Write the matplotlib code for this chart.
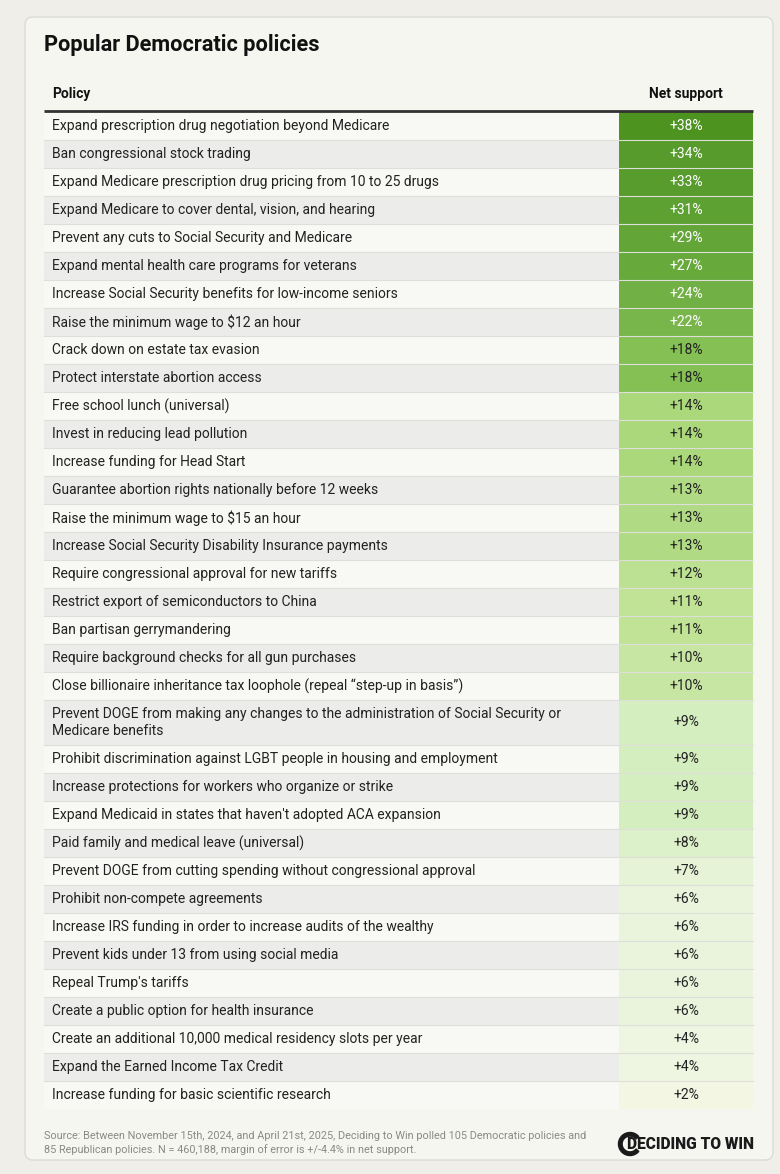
import matplotlib
matplotlib.use("Agg")
import matplotlib.pyplot as plt
from matplotlib.patches import FancyBboxPatch, Wedge

plt.rcParams['font.family'] = ['Roboto', 'DejaVu Sans']

title = "Popular Democratic policies"
col_headers = ["Policy", "Net support"]

policies = [
    "Expand prescription drug negotiation beyond Medicare",
    "Ban congressional stock trading",
    "Expand Medicare prescription drug pricing from 10 to 25 drugs",
    "Expand Medicare to cover dental, vision, and hearing",
    "Prevent any cuts to Social Security and Medicare",
    "Expand mental health care programs for veterans",
    "Increase Social Security benefits for low-income seniors",
    "Raise the minimum wage to $12 an hour",
    "Crack down on estate tax evasion",
    "Protect interstate abortion access",
    "Free school lunch (universal)",
    "Invest in reducing lead pollution",
    "Increase funding for Head Start",
    "Guarantee abortion rights nationally before 12 weeks",
    "Raise the minimum wage to $15 an hour",
    "Increase Social Security Disability Insurance payments",
    "Require congressional approval for new tariffs",
    "Restrict export of semiconductors to China",
    "Ban partisan gerrymandering",
    "Require background checks for all gun purchases",
    "Close billionaire inheritance tax loophole (repeal \u201cstep-up in basis\u201d)",
    "Prevent DOGE from making any changes to the administration of Social Security or\nMedicare benefits",
    "Prohibit discrimination against LGBT people in housing and employment",
    "Increase protections for workers who organize or strike",
    "Expand Medicaid in states that haven't adopted ACA expansion",
    "Paid family and medical leave (universal)",
    "Prevent DOGE from cutting spending without congressional approval",
    "Prohibit non-compete agreements",
    "Increase IRS funding in order to increase audits of the wealthy",
    "Prevent kids under 13 from using social media",
    "Repeal Trump's tariffs",
    "Create a public option for health insurance",
    "Create an additional 10,000 medical residency slots per year",
    "Expand the Earned Income Tax Credit",
    "Increase funding for basic scientific research",
]
net_support = [38, 34, 33, 31, 29, 27, 24, 22, 18, 18, 14, 14, 14, 13, 13, 13,
               12, 11, 11, 10, 10, 9, 9, 9, 9, 8, 7, 6, 6, 6, 6, 6, 4, 4, 2]

source = ("Source: Between November 15th, 2024, and April 21st, 2025, Deciding to Win polled 105 Democratic policies and\n"
          "85 Republican policies. N = 460,188, margin of error is +/-4.4% in net support.")

# shades used by the net support column (binned)
shade = {38: "#4c931f", 34: "#569b2b", 33: "#589c2d", 31: "#5ea133",
         29: "#63a537", 27: "#68a93c", 24: "#70b044", 22: "#78b54b",
         18: "#85c055", 14: "#abd87b", 13: "#b1da84", 12: "#bde192",
         11: "#c0e396", 10: "#c8e6a3", 9: "#d5eebf", 8: "#dcf0c9",
         7: "#e6f3d6", 6: "#eaf4dc", 4: "#eef5e0", 2: "#f4f6e4"}

W, H = 780, 1174
fig = plt.figure(figsize=(W / 100, H / 100), dpi=100)
fig.patch.set_facecolor("#efeee8")
ax = fig.add_axes([0, 0, 1, 1])
ax.set_xlim(0, W)
ax.set_ylim(H, 0)
ax.axis("off")

# card
card = FancyBboxPatch((25, 17), 748, 1143, boxstyle="round,pad=0,rounding_size=8",
                      facecolor="#f6f6f1", edgecolor="#dcdcd6", lw=1)
ax.add_patch(card)

ax.text(44, 45, title, fontsize=15.7, fontweight="bold", color="#111111",
        va="center", ha="left")

left, right, val_left = 44, 753, 619
val_mid = (val_left + right) / 2

ax.text(52, 94, col_headers[0], fontsize=10, fontweight="bold", color="#111111",
        va="center", ha="left")
ax.text(val_mid, 94, col_headers[1], fontsize=10, fontweight="bold", color="#111111",
        va="center", ha="center")

# row geometry
heights = [45 if "\n" in p else 28 for p in policies]
tops = []
y = 112
for h in heights:
    tops.append(y)
    y += h
centers = [t + h / 2 for t, h in zip(tops, heights)]

row_bg = ["#f8f8f5" if i % 2 == 0 else "#ececea" for i in range(len(policies))]
ax.barh(centers, val_left - left, height=heights, left=left, color=row_bg, lw=0)
ax.barh(centers, right - val_left, height=heights, left=val_left,
        color=[shade[v] for v in net_support], lw=0)

for t in tops[1:]:
    ax.plot([left, right], [t, t], color="#dededa", lw=0.8)
ax.plot([left, right], [111, 111], color="#333333", lw=2, solid_capstyle="butt")

for c, p, v in zip(centers, policies, net_support):
    ax.text(52, c, p, fontsize=10, color="#222222", va="center", ha="left",
            linespacing=1.25)
    ax.text(val_mid, c, f"+{v}%", fontsize=10,
            color="#ffffff" if v >= 20 else "#222222", va="center", ha="center")

ax.text(44, 1143, source, fontsize=7.8, color="#8a8a85", va="center", ha="left",
        linespacing=1.4)

# logo
ax.add_patch(Wedge((630, 1144), 11.5, 40, 320, width=3.6, color="#1a1a1a"))
ax.text(627, 1144, "DECIDING TO WIN", fontsize=11.2, fontweight="black",
        color="#1a1a1a", va="center", ha="left")

fig.savefig("out.png", dpi=100, facecolor=fig.get_facecolor())
